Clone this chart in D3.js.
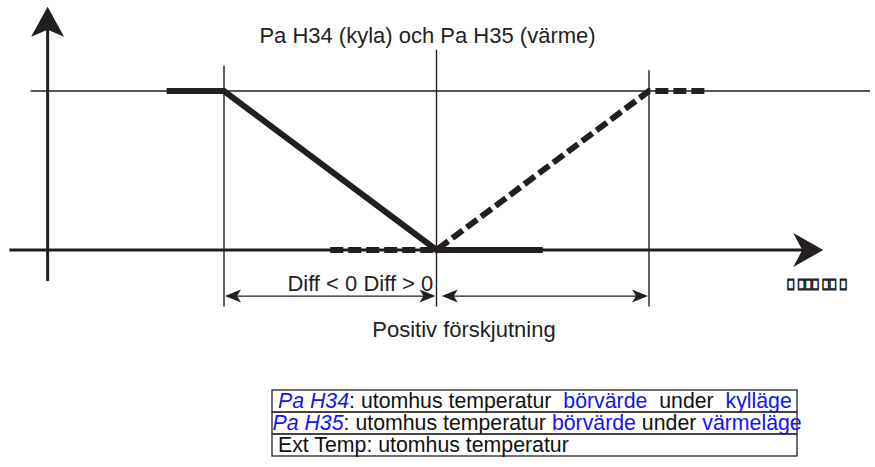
<!DOCTYPE html>
<html>
<head>
<meta charset="utf-8">
<script src="https://cdn.jsdelivr.net/npm/d3@7"></script>
<style>
  html, body { margin: 0; padding: 0; background: #fff; }
  svg { display: block; font-family: "Liberation Sans", Arial, sans-serif; }
</style>
</head>
<body>
<svg id="chart" width="875" height="467"></svg>
<script>
// Outdoor-temperature setpoint shift: cooling (Pa H34) and heating (Pa H35) curves.
// x: shift relative to the setpoint (units of the full band), y: normalised output.
const coolingCurve = [
  { t: -1.27, v: 1 }, { t: -1, v: 1 }, { t: 0, v: 0 }, { t: 0.5, v: 0 }
];
const heatingCurve = [
  { t: -0.5, v: 0 }, { t: 0, v: 0 }, { t: 1, v: 1 }, { t: 1.27, v: 1 }
];
const guideLines = [
  { t: -1, top: 1.16 }, { t: 0, top: 1.26 }, { t: 1, top: 1.13 }
];
const spanArrows = [[-1, 0], [0.02, 1]];

const titleText = "Pa H34 (kyla) och Pa H35 (värme)";
const diffText = "Diff < 0 Diff > 0";
const shiftText = "Positiv förskjutning";
const axisText = "□ □□□ □□  □";

const legendRows = [
  [{ s: "Pa H34", c: "b", i: true }, { s: ": utomhus temperatur  ", c: "k" }, { s: "börvärde", c: "b" },
   { s: "  under  ", c: "k" }, { s: "kylläge", c: "b" }],
  [{ s: "Pa H35", c: "b", i: true }, { s: ": utomhus temperatur ", c: "k" }, { s: "börvärde", c: "b" },
   { s: " under ", c: "k" }, { s: "värmeläge", c: "b" }],
  [{ s: "Ext Temp: utomhus temperatur", c: "k" }]
];

const ink = "#231f20";
const blue = "#1414f0";

const svg = d3.select("#chart");
const x = d3.scaleLinear().domain([-1, 1]).range([224, 649]);
const y = d3.scaleLinear().domain([0, 1]).range([250, 91]);

// notched arrow head pointing along angle (radians), tip at (px, py)
function arrowHead(px, py, angle, len, half, notch) {
  const ca = Math.cos(angle), sa = Math.sin(angle);
  const pt = (a, b) => [px + a * ca - b * sa, py + a * sa + b * ca];
  return "M" + [pt(0, 0), pt(-len, -half), pt(-len + notch, 0), pt(-len, half)].map(p => p.join(",")).join("L") + "Z";
}

// thin reference lines
svg.append("line")
  .attr("x1", x(-1.91)).attr("x2", x(2.04))
  .attr("y1", y(1)).attr("y2", y(1))
  .attr("stroke", ink).attr("stroke-width", 1.4);

svg.selectAll("line.guide").data(guideLines).join("line")
  .attr("class", "guide")
  .attr("x1", d => x(d.t)).attr("x2", d => x(d.t))
  .attr("y1", d => y(d.top)).attr("y2", y(-0.355))
  .attr("stroke", ink).attr("stroke-width", 1.4);

// axes
const yAxisX = x(-1.83);
svg.append("line")
  .attr("x1", yAxisX).attr("x2", yAxisX)
  .attr("y1", y(-0.195)).attr("y2", y(1.47))
  .attr("stroke", ink).attr("stroke-width", 3);
svg.append("path")
  .attr("d", arrowHead(yAxisX, y(1.53), -Math.PI / 2, 30, 16.5, 7))
  .attr("fill", ink);

svg.append("line")
  .attr("x1", x(-2.01)).attr("x2", x(1.78))
  .attr("y1", y(0)).attr("y2", y(0))
  .attr("stroke", ink).attr("stroke-width", 3);
svg.append("path")
  .attr("d", arrowHead(x(1.82), y(0), 0, 30, 17, 9))
  .attr("fill", ink);

// span dimension arrows
const spanY = y(-0.29);
spanArrows.forEach(([a, b]) => {
  const x0 = x(a), x1 = x(b);
  svg.append("line")
    .attr("x1", x0 + 8).attr("x2", x1 - 8)
    .attr("y1", spanY).attr("y2", spanY)
    .attr("stroke", ink).attr("stroke-width", 1.4);
  svg.append("path").attr("d", arrowHead(x0 + 1, spanY, Math.PI, 16, 6.5, 4)).attr("fill", ink);
  svg.append("path").attr("d", arrowHead(x1 - 1, spanY, 0, 16, 6.5, 4)).attr("fill", ink);
});

// curves
const line = d3.line().x(d => x(d.t)).y(d => y(d.v));
svg.append("path")
  .attr("d", line(heatingCurve))
  .attr("fill", "none").attr("stroke", ink).attr("stroke-width", 6)
  .attr("stroke-dasharray", "13,5").attr("stroke-linejoin", "miter");
svg.append("path")
  .attr("d", line(coolingCurve))
  .attr("fill", "none").attr("stroke", ink).attr("stroke-width", 6)
  .attr("stroke-linejoin", "miter");

// labels
svg.append("text")
  .attr("x", 427.5).attr("y", 43)
  .attr("text-anchor", "middle").attr("font-size", 22).attr("fill", ink)
  .text(titleText);

svg.append("text")
  .attr("x", x(-0.015)).attr("y", y(-0.258))
  .attr("text-anchor", "end").attr("font-size", 22).attr("fill", ink)
  .text(diffText);

svg.append("text")
  .attr("x", 464).attr("y", 337)
  .attr("text-anchor", "middle").attr("font-size", 22).attr("fill", ink)
  .text(shiftText);

// x-axis label: glyphs on a fixed 7px pitch (spaces 3.5px), drawn narrow and tall
const sx = 0.75, sy = 1.3;
const glyphX = [];
{
  let cx = 0;
  for (const ch of axisText) { glyphX.push(cx / sx); cx += ch === " " ? 3.5 : 7; }
}
svg.append("text")
  .attr("x", glyphX.join(" ")).attr("y", 0)
  .attr("transform", `translate(787,288) scale(${sx},${sy})`)
  .attr("font-family", "DejaVu Sans").attr("font-weight", "bold")
  .attr("font-size", 10.5).attr("fill", ink)
  .attr("stroke", ink).attr("stroke-width", 1.3)
  .text(axisText);

// legend table
const tbl = { x0: 272, x1: 797, top: 390, rowH: 22 };
const g = svg.append("g");
legendRows.forEach((row, i) => {
  const top = tbl.top + i * tbl.rowH;
  g.append("rect")
    .attr("x", tbl.x0).attr("y", top)
    .attr("width", tbl.x1 - tbl.x0).attr("height", tbl.rowH)
    .attr("fill", "none").attr("stroke", "#333").attr("stroke-width", 1.4);
  const t = g.append("text")
    .attr("x", tbl.x0 + (i === 1 ? 0.5 : 6)).attr("y", top + 17.5)
    .attr("font-size", 21.3).attr("xml:space", "preserve")
    .style("white-space", "pre");
  row.forEach(seg => {
    t.append("tspan")
      .attr("fill", seg.c === "b" ? blue : "#111")
      .attr("font-style", seg.i ? "italic" : null)
      .text(seg.s);
  });
});
</script>
</body>
</html>
